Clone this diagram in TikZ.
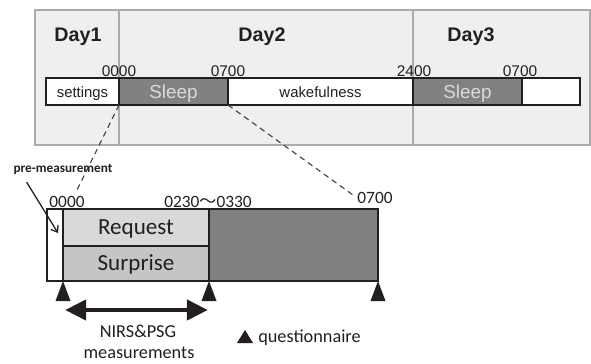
\documentclass[tikz,border=0pt]{standalone}
\usepackage{fontspec}
\setmainfont{Liberation Sans}
\newfontfamily\calib{Carlito}
\newfontfamily\cjk{Noto Sans CJK JP}
\usetikzlibrary{arrows.meta}

\definecolor{panelgray}{HTML}{EFEFF1}
\definecolor{paneledge}{HTML}{ABABAB}
\definecolor{sleepgray}{HTML}{818181}
\definecolor{sleeptext}{HTML}{DADADA}
\definecolor{reqgray}{HTML}{D9D9D9}
\definecolor{surgray}{HTML}{C5C5C5}
\definecolor{ink}{HTML}{231F20}

\tikzset{
    bar/.style={draw=ink, line width=1.6pt},
    lowbar/.style={draw=ink, line width=1.9pt},
    day/.style={font=\bfseries\fontsize{14}{16}\selectfont, text=ink, anchor=base},
    seglbl/.style={font=\fontsize{10.6}{12}\selectfont, text=ink, anchor=base},
    sleeplbl/.style={font=\fontsize{13.4}{15}\selectfont, text=sleeptext, anchor=base},
    clock/.style={font=\fontsize{11}{13}\selectfont, text=ink, anchor=base, inner sep=0pt},
    lowclock/.style={font=\calib\fontsize{12.3}{14}\selectfont, text=ink, anchor=base, inner sep=0pt},
    boxlbl/.style={font=\calib\fontsize{16.4}{18}\selectfont, text=ink, anchor=base},
    lowtxt/.style={font=\calib\fontsize{13}{15}\selectfont, text=ink, anchor=base, inner sep=0pt},
    zoomline/.style={draw=ink!85, line width=0.8pt, dash pattern=on 4pt off 3pt},
}

\begin{document}
\begin{tikzpicture}[x=0.025cm, y=-0.025cm]
    \useasboundingbox (0,0) rectangle (591,363);

    % three days
    \draw[fill=panelgray, draw=paneledge, line width=1pt] (35,10) rectangle (590,145);
    \draw[paneledge, line width=0.8pt] (119,10) -- (119,145) (413,10) -- (413,145);
    \node[day] (day1) at (78,41) {Day1};
    \node[day] (day2) at (262,41) {Day2};
    \node[day] (day3) at (471,41) {Day3};

    \draw[bar, fill=white] (46,78) rectangle (119,105);
    \draw[bar, fill=sleepgray] (119,78) rectangle (228,105);
    \draw[bar, fill=white] (228,78) rectangle (413,105);
    \draw[bar, fill=sleepgray] (413,78) rectangle (522,105);
    \draw[bar, fill=white] (522,78) rectangle (580,105);
    \node[seglbl] (settings) at (82.5,97) {settings};
    \node[sleeplbl] (sleep1) at (173.5,98) {Sleep};
    \node[seglbl] (wake) at (320.5,97) {wakefulness};
    \node[sleeplbl] (sleep2) at (467.5,98) {Sleep};

    \node[clock] (t0000) at (119,76) {0000};
    \node[clock] (t0700) at (228,76) {0700};
    \node[clock] (t2400) at (414,76) {2400};
    \node[clock] (t0700b) at (520,76) {0700};

    % night of day 2
    \draw[lowbar, fill=white] (47,209) rectangle (63,281);
    \draw[lowbar, fill=reqgray] (63,209) rectangle (209,246);
    \draw[lowbar, fill=surgray] (63,246) rectangle (209,281);
    \draw[lowbar, fill=sleepgray] (209,209) rectangle (378,281);
    \node[boxlbl] (request) at (136,234) {Request};
    \node[boxlbl] (surprise) at (136,270) {Surprise};

    \node[lowclock] (n0000) at (67,207) {0000};
    \node[lowclock] (n0230) at (208,207) {0230{\cjk 〜}0330};
    \node[lowclock] (n0700) at (375,203) {0700};

    \coordinate (s0) at (119,105);
    \coordinate (s7) at (228,105);
    \coordinate (e0) at (77,190);
    \coordinate (e7) at (353,195);
    \draw[zoomline] (s0) -- (e0);
    \draw[zoomline] (s7) -- (e7);

    \node[font=\calib\bfseries\fontsize{9.4}{11}\selectfont, text=ink] (pre) at (63,169) {pre-measurement};
    \coordinate (pretip) at (58,233);
    \draw[ink, line width=0.9pt, -{Straight Barb[length=4pt, width=6pt]}] (pre.south west) ++(18,3) -- (pretip);

    % questionnaires
    \foreach \qx in {63,209,378}
        \fill[ink] (\qx,281) -- ++(7.5,20) -- ++(-15,0) -- cycle;

    \coordinate (m0) at (65,310);
    \coordinate (m1) at (208,310);
    \draw[ink, line width=3.5pt, {Triangle[length=15pt, width=14pt]}-{Triangle[length=15pt, width=14pt]}] (m0) -- (m1);
    \node[lowtxt] (nirs) at (138,337) {NIRS\&PSG};
    \node[lowtxt] (meas) at (139,358) {measurements};

    \fill[ink] (245,330) -- ++(8,13) -- ++(-16,0) -- cycle;
    \node[lowtxt, anchor=base west] (quest) at (258,342) {questionnaire};
\end{tikzpicture}
\end{document}
